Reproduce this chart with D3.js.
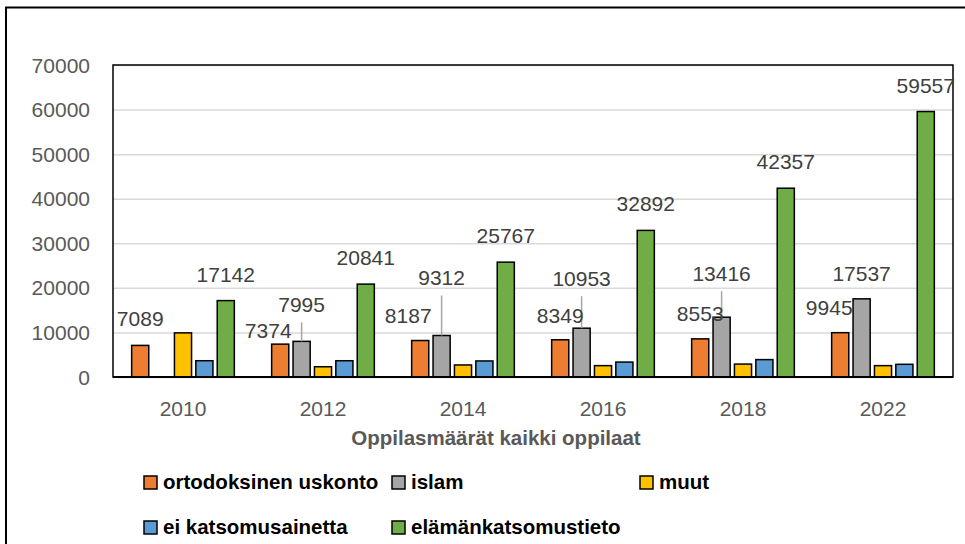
<!DOCTYPE html>
<html>
<head>
<meta charset="utf-8">
<script src="https://cdn.jsdelivr.net/npm/d3@7"></script>
<style>
  body { margin: 0; background: #fff; }
  text { font-family: "Liberation Sans", Arial, sans-serif; }
</style>
</head>
<body>
<div class="chart"></div>
<script>
// Data
var years = ["2010", "2012", "2014", "2016", "2018", "2022"];
var seriesNames = ["ortodoksinen uskonto", "islam", "muut", "ei katsomusainetta", "elämänkatsomustieto"];
var ortodoksinen = [7089, 7374, 8187, 8349, 8553, 9945];
var islam = [null, 7995, 9312, 10953, 13416, 17537];
var muut = [9900, 2300, 2700, 2550, 2900, 2550];
var eiKatsomus = [3650, 3650, 3600, 3350, 3900, 2850];
var elamankatsomus = [17142, 20841, 25767, 32892, 42357, 59557];
var yTicks = [0, 10000, 20000, 30000, 40000, 50000, 60000, 70000];
var axisTitle = "Oppilasmäärät kaikki oppilaat";

// which series get value labels
var labelled = [true, true, false, false, true];

// label layout (pixel nudges, like the hand-moved labels in the original)
var orangeDx = [0, -12, -12, 0, 0, -11];
var orangeRise = [19, 6, 18, 17, 18, 18];
var islamRise = [0, 29, 50, 42, 36, 18];

var colors = ["#ED7D31", "#A5A5A5", "#FFC000", "#5B9BD5", "#70AD47"];
var allSeries = [ortodoksinen, islam, muut, eiKatsomus, elamankatsomus];

// Setup chart
var svgWidth = 965;
var svgHeight = 544;
var plot = { left: 113, top: 65, right: 953, bottom: 377 };

var svg = d3.select(".chart")
  .append("svg")
  .attr("width", svgWidth)
  .attr("height", svgHeight);

// outer frame (runs off the right and bottom edges)
svg.append("rect")
  .attr("x", 6).attr("y", 7.5)
  .attr("width", 1000).attr("height", 600)
  .attr("fill", "none")
  .attr("stroke", "#000")
  .attr("stroke-width", 2);

// Scales
var x0 = d3.scaleBand()
  .domain(years)
  .range([plot.left, plot.right])
  .paddingInner(0.236)
  .paddingOuter(0.118);

var x1 = d3.scaleBand()
  .domain(d3.range(seriesNames.length))
  .range([0, x0.bandwidth()])
  .paddingInner(0.2)
  .paddingOuter(0.1);

var y = d3.scaleLinear()
  .domain([0, 70000])
  .range([plot.bottom, plot.top]);

// gridlines
var leftAxis = d3.axisLeft(y).tickValues(yTicks).tickSize(-(plot.right - plot.left)).tickFormat("");
svg.append("g")
  .attr("class", "grid")
  .attr("transform", "translate(" + plot.left + ",0)")
  .call(leftAxis)
  .call(function(g) {
    g.select(".domain").remove();
    g.selectAll("line").attr("stroke", "#d9d9d9").attr("stroke-width", 1.5);
  });

// y tick labels
svg.append("g")
  .selectAll("text")
  .data(yTicks)
  .enter().append("text")
  .attr("x", 90)
  .attr("y", function(d) { return y(d); })
  .attr("dy", "0.36em")
  .attr("text-anchor", "end")
  .attr("font-size", "21px")
  .attr("fill", "#595959")
  .text(function(d) { return d; });

// plot border
svg.append("rect")
  .attr("x", plot.left).attr("y", plot.top)
  .attr("width", plot.right - plot.left)
  .attr("height", plot.bottom - plot.top)
  .attr("fill", "none")
  .attr("stroke", "#000")
  .attr("stroke-width", 1.5);

// bars
var rows = [];
allSeries.forEach(function(vals, s) {
  vals.forEach(function(v, i) {
    if (v != null) rows.push({ s: s, i: i, year: years[i], value: v });
  });
});

var chart = svg.append("g");

chart.selectAll("rect.bar")
  .data(rows)
  .enter().append("rect")
  .attr("class", "bar")
  .attr("x", function(d) { return x0(d.year) + x1(d.s); })
  .attr("y", function(d) { return y(d.value); })
  .attr("width", x1.bandwidth())
  .attr("height", function(d) { return y(0) - y(d.value); })
  .attr("fill", function(d) { return colors[d.s]; })
  .attr("stroke", "#000")
  .attr("stroke-width", 1.5);

// baseline
svg.append("line")
  .attr("x1", plot.left).attr("x2", plot.right)
  .attr("y1", y(0)).attr("y2", y(0))
  .attr("stroke", "#000").attr("stroke-width", 2);

// value labels
function labelPos(d) {
  var cx = x0(d.year) + x1(d.s) + x1.bandwidth() / 2;
  var rise = 19, dx = 0;
  if (d.s === 0) { rise = orangeRise[d.i]; dx = orangeDx[d.i]; }
  if (d.s === 1) { rise = islamRise[d.i]; }
  return { x: cx + dx, y: y(d.value) - rise, cx: cx, rise: rise };
}

var labelRows = rows.filter(function(d) { return labelled[d.s]; });

// leader lines for the lifted islam labels
chart.selectAll("line.leader")
  .data(labelRows.filter(function(d) { return d.s === 1 && labelPos(d).rise > 25; }))
  .enter().append("line")
  .attr("class", "leader")
  .attr("x1", function(d) { return labelPos(d).cx; })
  .attr("x2", function(d) { return labelPos(d).cx; })
  .attr("y1", function(d) { return labelPos(d).y + 10; })
  .attr("y2", function(d) { return y(d.value); })
  .attr("stroke", "#a6a6a6")
  .attr("stroke-width", 1.5);

chart.selectAll("text.value")
  .data(labelRows)
  .enter().append("text")
  .attr("class", "value")
  .attr("x", function(d) { return labelPos(d).x; })
  .attr("y", function(d) { return labelPos(d).y; })
  .attr("text-anchor", "middle")
  .attr("font-size", "21px")
  .attr("fill", "#404040")
  .text(function(d) { return d.value; });

// x axis labels
svg.append("g")
  .selectAll("text")
  .data(years)
  .enter().append("text")
  .attr("x", function(d) { return x0(d) + x0.bandwidth() / 2; })
  .attr("y", 416)
  .attr("text-anchor", "middle")
  .attr("font-size", "21px")
  .attr("fill", "#595959")
  .text(function(d) { return d; });

// axis title
svg.append("text")
  .attr("x", 496)
  .attr("y", 445)
  .attr("text-anchor", "middle")
  .attr("font-size", "20.5px")
  .attr("font-weight", "bold")
  .attr("fill", "#595959")
  .text(axisTitle);

// legend
var legend = svg.append("g")
  .selectAll("g")
  .data(seriesNames)
  .enter().append("g")
  .attr("transform", function(d, i) {
    return "translate(" + (144 + (i % 3) * 248) + "," + (Math.floor(i / 3) * 45) + ")";
  });

legend.append("rect")
  .attr("x", 0).attr("y", 476)
  .attr("width", 13).attr("height", 13)
  .attr("fill", function(d, i) { return colors[i]; })
  .attr("stroke", "#000")
  .attr("stroke-width", 1.5);

legend.append("text")
  .attr("x", 19)
  .attr("y", 488.5)
  .attr("font-size", "20.5px")
  .attr("font-weight", "bold")
  .attr("fill", "#000")
  .text(function(d) { return d; });
</script>
</body>
</html>
